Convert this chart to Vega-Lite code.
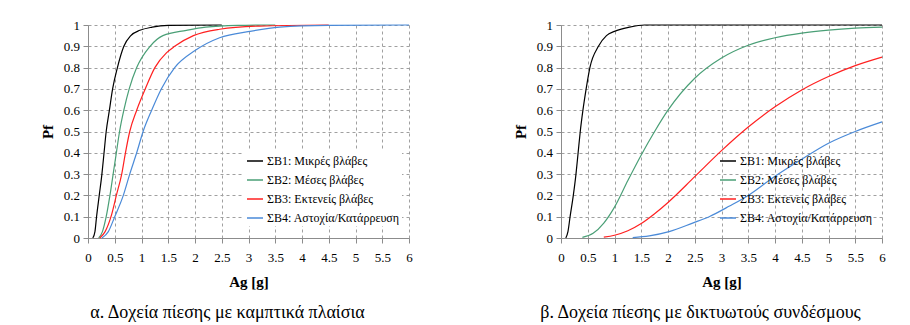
{
  "$schema": "https://vega.github.io/schema/vega-lite/v6.json",
  "padding": {"left": 40, "top": 19, "right": 0, "bottom": 0},
  "background": "white",
  "spacing": 100,
  "config": {
    "font": "Liberation Serif",
    "view": {"stroke": null},
    "axis": {
      "domainColor": "#8c8c8c",
      "tickColor": "#8c8c8c",
      "gridColor": "#a0a0a0",
      "gridDash": [3, 3],
      "labelFont": "Liberation Serif",
      "labelFontSize": 13,
      "labelColor": "#000000",
      "titleFont": "Liberation Serif",
      "titleFontSize": 15,
      "titleFontWeight": "bold",
      "titleColor": "#000000",
      "tickSize": 5
    },
    "legend": {
      "orient": "none",
      "legendX": 156,
      "legendY": 125,
      "padding": 2,
      "symbolType": "stroke",
      "symbolSize": 256,
      "symbolStrokeWidth": 1.5,
      "labelFont": "Liberation Serif",
      "labelFontSize": 12,
      "labelColor": "#000000",
      "labelOffset": 3,
      "rowPadding": 4
    }
  },
  "resolve": {"scale": {"color": "independent"}, "legend": {"color": "independent"}},
  "datasets": {
    "curves": [
      {"panel": "a", "series": "ΣΒ1: Μικρές βλάβες", "ag": 0.09, "pf": 0},
      {"panel": "a", "series": "ΣΒ1: Μικρές βλάβες", "ag": 0.13, "pf": 0.03},
      {"panel": "a", "series": "ΣΒ1: Μικρές βλάβες", "ag": 0.16, "pf": 0.1},
      {"panel": "a", "series": "ΣΒ1: Μικρές βλάβες", "ag": 0.21, "pf": 0.2},
      {"panel": "a", "series": "ΣΒ1: Μικρές βλάβες", "ag": 0.26, "pf": 0.3},
      {"panel": "a", "series": "ΣΒ1: Μικρές βλάβες", "ag": 0.3, "pf": 0.4},
      {"panel": "a", "series": "ΣΒ1: Μικρές βλάβες", "ag": 0.34, "pf": 0.5},
      {"panel": "a", "series": "ΣΒ1: Μικρές βλάβες", "ag": 0.4, "pf": 0.6},
      {"panel": "a", "series": "ΣΒ1: Μικρές βλάβες", "ag": 0.46, "pf": 0.7},
      {"panel": "a", "series": "ΣΒ1: Μικρές βλάβες", "ag": 0.55, "pf": 0.8},
      {"panel": "a", "series": "ΣΒ1: Μικρές βλάβες", "ag": 0.67, "pf": 0.9},
      {"panel": "a", "series": "ΣΒ1: Μικρές βλάβες", "ag": 0.8, "pf": 0.95},
      {"panel": "a", "series": "ΣΒ1: Μικρές βλάβες", "ag": 0.97, "pf": 0.975},
      {"panel": "a", "series": "ΣΒ1: Μικρές βλάβες", "ag": 1.2, "pf": 0.99},
      {"panel": "a", "series": "ΣΒ1: Μικρές βλάβες", "ag": 1.5, "pf": 0.998},
      {"panel": "a", "series": "ΣΒ1: Μικρές βλάβες", "ag": 2.5, "pf": 1},
      {"panel": "a", "series": "ΣΒ2: Μέσες βλάβες", "ag": 0.2, "pf": 0},
      {"panel": "a", "series": "ΣΒ2: Μέσες βλάβες", "ag": 0.27, "pf": 0.03},
      {"panel": "a", "series": "ΣΒ2: Μέσες βλάβες", "ag": 0.34, "pf": 0.1},
      {"panel": "a", "series": "ΣΒ2: Μέσες βλάβες", "ag": 0.41, "pf": 0.2},
      {"panel": "a", "series": "ΣΒ2: Μέσες βλάβες", "ag": 0.47, "pf": 0.3},
      {"panel": "a", "series": "ΣΒ2: Μέσες βλάβες", "ag": 0.53, "pf": 0.4},
      {"panel": "a", "series": "ΣΒ2: Μέσες βλάβες", "ag": 0.59, "pf": 0.5},
      {"panel": "a", "series": "ΣΒ2: Μέσες βλάβες", "ag": 0.67, "pf": 0.6},
      {"panel": "a", "series": "ΣΒ2: Μέσες βλάβες", "ag": 0.77, "pf": 0.7},
      {"panel": "a", "series": "ΣΒ2: Μέσες βλάβες", "ag": 0.91, "pf": 0.8},
      {"panel": "a", "series": "ΣΒ2: Μέσες βλάβες", "ag": 1.16, "pf": 0.9},
      {"panel": "a", "series": "ΣΒ2: Μέσες βλάβες", "ag": 1.4, "pf": 0.95},
      {"panel": "a", "series": "ΣΒ2: Μέσες βλάβες", "ag": 1.84, "pf": 0.975},
      {"panel": "a", "series": "ΣΒ2: Μέσες βλάβες", "ag": 2.2, "pf": 0.99},
      {"panel": "a", "series": "ΣΒ2: Μέσες βλάβες", "ag": 2.8, "pf": 0.998},
      {"panel": "a", "series": "ΣΒ2: Μέσες βλάβες", "ag": 3.5, "pf": 1},
      {"panel": "a", "series": "ΣΒ3: Εκτενείς βλάβες", "ag": 0.22, "pf": 0},
      {"panel": "a", "series": "ΣΒ3: Εκτενείς βλάβες", "ag": 0.32, "pf": 0.03},
      {"panel": "a", "series": "ΣΒ3: Εκτενείς βλάβες", "ag": 0.43, "pf": 0.1},
      {"panel": "a", "series": "ΣΒ3: Εκτενείς βλάβες", "ag": 0.53, "pf": 0.2},
      {"panel": "a", "series": "ΣΒ3: Εκτενείς βλάβες", "ag": 0.63, "pf": 0.3},
      {"panel": "a", "series": "ΣΒ3: Εκτενείς βλάβες", "ag": 0.7, "pf": 0.4},
      {"panel": "a", "series": "ΣΒ3: Εκτενείς βλάβες", "ag": 0.78, "pf": 0.5},
      {"panel": "a", "series": "ΣΒ3: Εκτενείς βλάβες", "ag": 0.91, "pf": 0.6},
      {"panel": "a", "series": "ΣΒ3: Εκτενείς βλάβες", "ag": 1.07, "pf": 0.7},
      {"panel": "a", "series": "ΣΒ3: Εκτενείς βλάβες", "ag": 1.25, "pf": 0.8},
      {"panel": "a", "series": "ΣΒ3: Εκτενείς βλάβες", "ag": 1.47, "pf": 0.87},
      {"panel": "a", "series": "ΣΒ3: Εκτενείς βλάβες", "ag": 1.62, "pf": 0.9},
      {"panel": "a", "series": "ΣΒ3: Εκτενείς βλάβες", "ag": 1.97, "pf": 0.95},
      {"panel": "a", "series": "ΣΒ3: Εκτενείς βλάβες", "ag": 2.46, "pf": 0.98},
      {"panel": "a", "series": "ΣΒ3: Εκτενείς βλάβες", "ag": 3.2, "pf": 0.995},
      {"panel": "a", "series": "ΣΒ3: Εκτενείς βλάβες", "ag": 4.5, "pf": 1},
      {"panel": "a", "series": "ΣΒ4: Αστοχία/Κατάρρευση", "ag": 0.26, "pf": 0},
      {"panel": "a", "series": "ΣΒ4: Αστοχία/Κατάρρευση", "ag": 0.38, "pf": 0.03},
      {"panel": "a", "series": "ΣΒ4: Αστοχία/Κατάρρευση", "ag": 0.5, "pf": 0.1},
      {"panel": "a", "series": "ΣΒ4: Αστοχία/Κατάρρευση", "ag": 0.66, "pf": 0.2},
      {"panel": "a", "series": "ΣΒ4: Αστοχία/Κατάρρευση", "ag": 0.78, "pf": 0.3},
      {"panel": "a", "series": "ΣΒ4: Αστοχία/Κατάρρευση", "ag": 0.91, "pf": 0.4},
      {"panel": "a", "series": "ΣΒ4: Αστοχία/Κατάρρευση", "ag": 1.03, "pf": 0.5},
      {"panel": "a", "series": "ΣΒ4: Αστοχία/Κατάρρευση", "ag": 1.19, "pf": 0.6},
      {"panel": "a", "series": "ΣΒ4: Αστοχία/Κατάρρευση", "ag": 1.37, "pf": 0.7},
      {"panel": "a", "series": "ΣΒ4: Αστοχία/Κατάρρευση", "ag": 1.62, "pf": 0.8},
      {"panel": "a", "series": "ΣΒ4: Αστοχία/Κατάρρευση", "ag": 2.0, "pf": 0.88},
      {"panel": "a", "series": "ΣΒ4: Αστοχία/Κατάρρευση", "ag": 2.46, "pf": 0.94},
      {"panel": "a", "series": "ΣΒ4: Αστοχία/Κατάρρευση", "ag": 3.02, "pf": 0.97},
      {"panel": "a", "series": "ΣΒ4: Αστοχία/Κατάρρευση", "ag": 3.58, "pf": 0.99},
      {"panel": "a", "series": "ΣΒ4: Αστοχία/Κατάρρευση", "ag": 4.5, "pf": 0.998},
      {"panel": "a", "series": "ΣΒ4: Αστοχία/Κατάρρευση", "ag": 6, "pf": 1},
      {"panel": "b", "series": "ΣΒ1: Μικρές βλάβες", "ag": 0.09, "pf": 0},
      {"panel": "b", "series": "ΣΒ1: Μικρές βλάβες", "ag": 0.13, "pf": 0.03},
      {"panel": "b", "series": "ΣΒ1: Μικρές βλάβες", "ag": 0.17, "pf": 0.1},
      {"panel": "b", "series": "ΣΒ1: Μικρές βλάβες", "ag": 0.23, "pf": 0.2},
      {"panel": "b", "series": "ΣΒ1: Μικρές βλάβες", "ag": 0.28, "pf": 0.3},
      {"panel": "b", "series": "ΣΒ1: Μικρές βλάβες", "ag": 0.32, "pf": 0.4},
      {"panel": "b", "series": "ΣΒ1: Μικρές βλάβες", "ag": 0.36, "pf": 0.5},
      {"panel": "b", "series": "ΣΒ1: Μικρές βλάβες", "ag": 0.41, "pf": 0.6},
      {"panel": "b", "series": "ΣΒ1: Μικρές βλάβες", "ag": 0.47, "pf": 0.7},
      {"panel": "b", "series": "ΣΒ1: Μικρές βλάβες", "ag": 0.54, "pf": 0.8},
      {"panel": "b", "series": "ΣΒ1: Μικρές βλάβες", "ag": 0.7, "pf": 0.9},
      {"panel": "b", "series": "ΣΒ1: Μικρές βλάβες", "ag": 0.85, "pf": 0.95},
      {"panel": "b", "series": "ΣΒ1: Μικρές βλάβες", "ag": 1.0, "pf": 0.97},
      {"panel": "b", "series": "ΣΒ1: Μικρές βλάβες", "ag": 1.28, "pf": 0.99},
      {"panel": "b", "series": "ΣΒ1: Μικρές βλάβες", "ag": 1.56, "pf": 1},
      {"panel": "b", "series": "ΣΒ1: Μικρές βλάβες", "ag": 6, "pf": 1},
      {"panel": "b", "series": "ΣΒ2: Μέσες βλάβες", "ag": 0.4, "pf": 0.003},
      {"panel": "b", "series": "ΣΒ2: Μέσες βλάβες", "ag": 0.6, "pf": 0.022},
      {"panel": "b", "series": "ΣΒ2: Μέσες βλάβες", "ag": 0.8, "pf": 0.07},
      {"panel": "b", "series": "ΣΒ2: Μέσες βλάβες", "ag": 1.0, "pf": 0.145},
      {"panel": "b", "series": "ΣΒ2: Μέσες βλάβες", "ag": 1.25, "pf": 0.27},
      {"panel": "b", "series": "ΣΒ2: Μέσες βλάβες", "ag": 1.5, "pf": 0.39},
      {"panel": "b", "series": "ΣΒ2: Μέσες βλάβες", "ag": 1.75, "pf": 0.5},
      {"panel": "b", "series": "ΣΒ2: Μέσες βλάβες", "ag": 2.0, "pf": 0.6},
      {"panel": "b", "series": "ΣΒ2: Μέσες βλάβες", "ag": 2.5, "pf": 0.75},
      {"panel": "b", "series": "ΣΒ2: Μέσες βλάβες", "ag": 3.0, "pf": 0.845},
      {"panel": "b", "series": "ΣΒ2: Μέσες βλάβες", "ag": 3.5, "pf": 0.905},
      {"panel": "b", "series": "ΣΒ2: Μέσες βλάβες", "ag": 4.0, "pf": 0.94},
      {"panel": "b", "series": "ΣΒ2: Μέσες βλάβες", "ag": 4.5, "pf": 0.962},
      {"panel": "b", "series": "ΣΒ2: Μέσες βλάβες", "ag": 5.0, "pf": 0.976},
      {"panel": "b", "series": "ΣΒ2: Μέσες βλάβες", "ag": 5.5, "pf": 0.985},
      {"panel": "b", "series": "ΣΒ2: Μέσες βλάβες", "ag": 6.0, "pf": 0.99},
      {"panel": "b", "series": "ΣΒ3: Εκτενείς βλάβες", "ag": 0.8, "pf": 0.004},
      {"panel": "b", "series": "ΣΒ3: Εκτενείς βλάβες", "ag": 1.0, "pf": 0.013},
      {"panel": "b", "series": "ΣΒ3: Εκτενείς βλάβες", "ag": 1.25, "pf": 0.034},
      {"panel": "b", "series": "ΣΒ3: Εκτενείς βλάβες", "ag": 1.5, "pf": 0.068},
      {"panel": "b", "series": "ΣΒ3: Εκτενείς βλάβες", "ag": 1.75, "pf": 0.114},
      {"panel": "b", "series": "ΣΒ3: Εκτενείς βλάβες", "ag": 2.0, "pf": 0.167},
      {"panel": "b", "series": "ΣΒ3: Εκτενείς βλάβες", "ag": 2.5, "pf": 0.288},
      {"panel": "b", "series": "ΣΒ3: Εκτενείς βλάβες", "ag": 3.0, "pf": 0.41},
      {"panel": "b", "series": "ΣΒ3: Εκτενείς βλάβες", "ag": 3.5, "pf": 0.521},
      {"panel": "b", "series": "ΣΒ3: Εκτενείς βλάβες", "ag": 4.0, "pf": 0.616},
      {"panel": "b", "series": "ΣΒ3: Εκτενείς βλάβες", "ag": 4.5, "pf": 0.695},
      {"panel": "b", "series": "ΣΒ3: Εκτενείς βλάβες", "ag": 5.0, "pf": 0.758},
      {"panel": "b", "series": "ΣΒ3: Εκτενείς βλάβες", "ag": 5.5, "pf": 0.809},
      {"panel": "b", "series": "ΣΒ3: Εκτενείς βλάβες", "ag": 6.0, "pf": 0.849},
      {"panel": "b", "series": "ΣΒ4: Αστοχία/Κατάρρευση", "ag": 1.34, "pf": 0.002},
      {"panel": "b", "series": "ΣΒ4: Αστοχία/Κατάρρευση", "ag": 1.65, "pf": 0.01},
      {"panel": "b", "series": "ΣΒ4: Αστοχία/Κατάρρευση", "ag": 2.02, "pf": 0.03},
      {"panel": "b", "series": "ΣΒ4: Αστοχία/Κατάρρευση", "ag": 2.46, "pf": 0.07},
      {"panel": "b", "series": "ΣΒ4: Αστοχία/Κατάρρευση", "ag": 2.77, "pf": 0.1},
      {"panel": "b", "series": "ΣΒ4: Αστοχία/Κατάρρευση", "ag": 3.15, "pf": 0.15},
      {"panel": "b", "series": "ΣΒ4: Αστοχία/Κατάρρευση", "ag": 3.5, "pf": 0.2},
      {"panel": "b", "series": "ΣΒ4: Αστοχία/Κατάρρευση", "ag": 4.0, "pf": 0.29},
      {"panel": "b", "series": "ΣΒ4: Αστοχία/Κατάρρευση", "ag": 4.5, "pf": 0.37},
      {"panel": "b", "series": "ΣΒ4: Αστοχία/Κατάρρευση", "ag": 5.0, "pf": 0.445},
      {"panel": "b", "series": "ΣΒ4: Αστοχία/Κατάρρευση", "ag": 5.5, "pf": 0.5},
      {"panel": "b", "series": "ΣΒ4: Αστοχία/Κατάρρευση", "ag": 6.0, "pf": 0.545}
    ]
  },
  "hconcat": [
    {
      "width": 321,
      "height": 213,
      "title": {"text": "α. Δοχεία πίεσης με καμπτικά πλαίσια", "orient": "bottom", "anchor": "middle", "frame": "group", "font": "Liberation Serif", "fontSize": 18, "fontWeight": "normal", "color": "#000000", "dx": -21, "offset": 15},
      "data": {"name": "curves"},
      "transform": [{"filter": "datum.panel == 'a'"}],
      "mark": {"type": "line", "interpolate": "monotone", "strokeWidth": 1.2},
      "encoding": {
        "x": {"field": "ag", "type": "quantitative", "scale": {"domain": [0, 6], "nice": false, "zero": true},
              "axis": {"values": [0, 0.5, 1, 1.5, 2, 2.5, 3, 3.5, 4, 4.5, 5, 5.5, 6], "format": "~g", "title": "Ag [g]", "labelPadding": 8, "titlePadding": 10, "labelFlush": false}},
        "y": {"field": "pf", "type": "quantitative", "scale": {"domain": [0, 1], "nice": false},
              "axis": {"values": [0, 0.1, 0.2, 0.3, 0.4, 0.5, 0.6, 0.7, 0.8, 0.9, 1], "format": "~g", "title": "Pf", "labelPadding": 3.5, "titlePadding": 8}},
        "color": {"field": "series", "type": "nominal",
                  "scale": {"domain": ["ΣΒ1: Μικρές βλάβες", "ΣΒ2: Μέσες βλάβες", "ΣΒ3: Εκτενείς βλάβες", "ΣΒ4: Αστοχία/Κατάρρευση"], "range": ["#000000", "#4a9f76", "#ff2020", "#4a8ad8"]},
                  "legend": {"title": null, "fillColor": "white"}}
      }
    },
    {
      "width": 321,
      "height": 213,
      "title": {"text": "β. Δοχεία πίεσης με δικτυωτούς συνδέσμους", "orient": "bottom", "anchor": "middle", "frame": "group", "font": "Liberation Serif", "fontSize": 18, "fontWeight": "normal", "color": "#000000", "dx": -21, "offset": 15},
      "data": {"name": "curves"},
      "transform": [{"filter": "datum.panel == 'b'"}],
      "mark": {"type": "line", "interpolate": "monotone", "strokeWidth": 1.2},
      "encoding": {
        "x": {"field": "ag", "type": "quantitative", "scale": {"domain": [0, 6], "nice": false, "zero": true},
              "axis": {"values": [0, 0.5, 1, 1.5, 2, 2.5, 3, 3.5, 4, 4.5, 5, 5.5, 6], "format": "~g", "title": "Ag [g]", "labelPadding": 8, "titlePadding": 10, "labelFlush": false}},
        "y": {"field": "pf", "type": "quantitative", "scale": {"domain": [0, 1], "nice": false},
              "axis": {"values": [0, 0.1, 0.2, 0.3, 0.4, 0.5, 0.6, 0.7, 0.8, 0.9, 1], "format": "~g", "title": "Pf", "labelPadding": 3.5, "titlePadding": 8}},
        "color": {"field": "series", "type": "nominal",
                  "scale": {"domain": ["ΣΒ1: Μικρές βλάβες", "ΣΒ2: Μέσες βλάβες", "ΣΒ3: Εκτενείς βλάβες", "ΣΒ4: Αστοχία/Κατάρρευση"], "range": ["#000000", "#4a9f76", "#ff2020", "#4a8ad8"]},
                  "legend": {"title": null}}
      }
    }
  ]
}
